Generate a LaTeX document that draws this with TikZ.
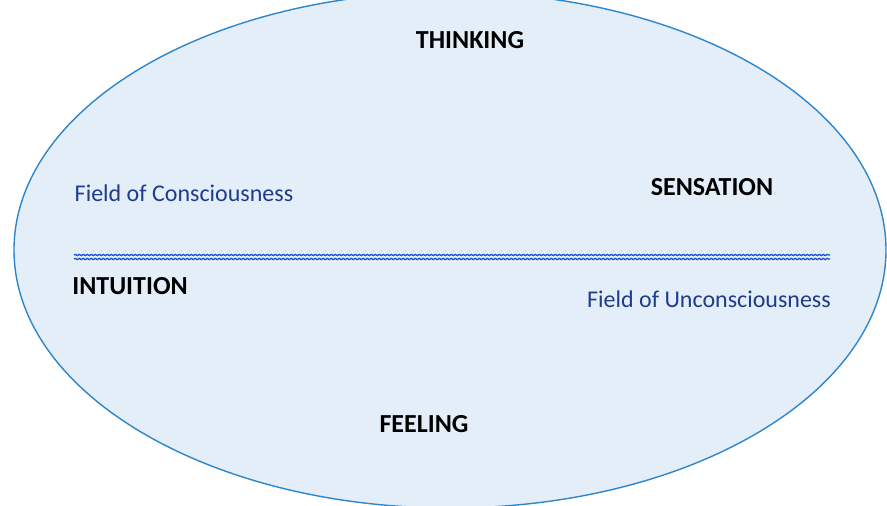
\documentclass[tikz,border=0pt]{standalone}
\usepackage{fontspec}
\setmainfont{Carlito}
\usetikzlibrary{positioning}
\usetikzlibrary{decorations.pathmorphing}
\definecolor{fieldfill}{HTML}{E4EEF8}
\definecolor{fieldline}{HTML}{2E86CC}
\definecolor{fieldtext}{HTML}{1F3C8C}
\definecolor{waveblue}{HTML}{1A55C8}
\tikzset{
  function/.style={font=\bfseries\fontsize{26}{31}\selectfont, text=black},
  field/.style={font=\fontsize{24}{29}\selectfont, text=fieldtext},
  wave/.style={waveblue, line width=1.3pt, decorate,
    decoration={snake, segment length=4pt, amplitude=0.6pt}},
}
\begin{document}
\begin{tikzpicture}[x=1pt, y=-1pt]
      \useasboundingbox (0,0) rectangle (887,506);
      \begin{scope}
        \clip (0,0) rectangle (887,506);
        \draw[fieldline, fill=fieldfill, line width=1.4pt] (450,250) ellipse (436 and 258);
      \end{scope}

      \node[function] (thinking) at (470,40) {THINKING};
      \node[function] (sensation) at (712,187) {SENSATION};
      \node[function] (intuition) at (130,286) {INTUITION};
      \node[function] (feeling) at (424,424) {FEELING};

      \node[field] (conscious) at (184,193) {Field of Consciousness};
      \node[field] (unconscious) at (709,299) {Field of Unconsciousness};

      \coordinate (wl) at (74,255);
      \coordinate (wr) at (830,255);
      \draw[wave] (wl) -- (wr);
      \draw[wave] ([yshift=-4pt]wl) -- ([yshift=-4pt]wr);
\end{tikzpicture}
\end{document}
